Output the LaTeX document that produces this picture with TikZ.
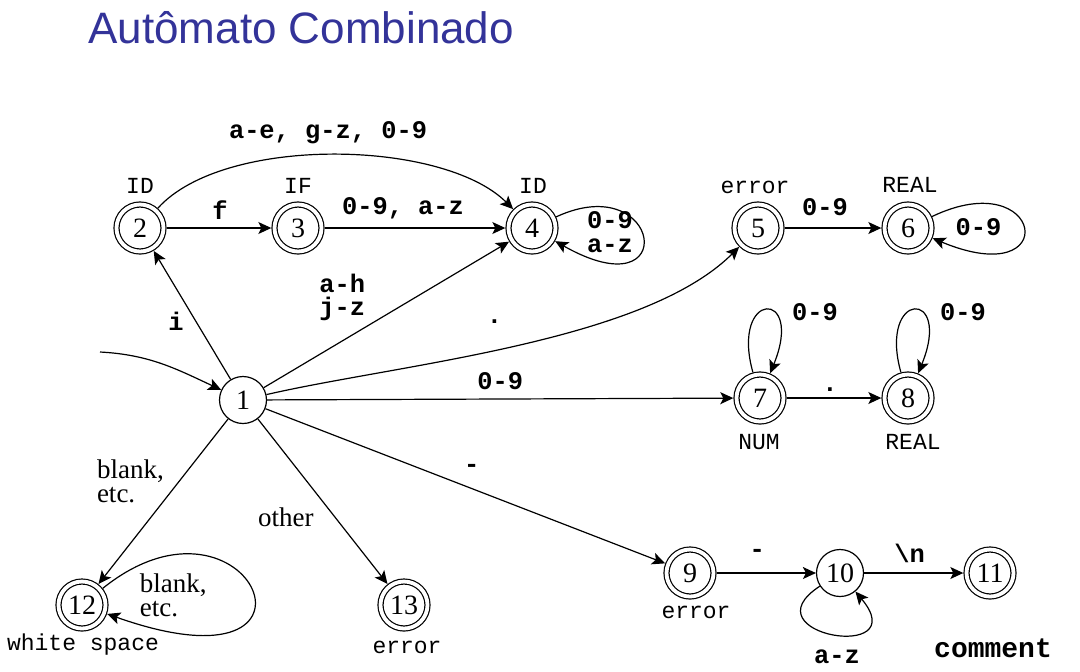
\documentclass[tikz,border=0pt]{standalone}
\usepackage{fontspec}
\setmainfont{Liberation Serif}
\setsansfont{Liberation Sans}
\setmonofont{Liberation Mono}
\usetikzlibrary{arrows.meta}
\definecolor{titleblue}{RGB}{51,51,153}

\begin{document}
\begin{tikzpicture}[x=0.5pt, y=-0.5pt, font=\fontsize{14}{14}\selectfont] % one unit = one pixel of the slide
\tikzstyle{state} = [circle, draw=black, line width=0.6pt, minimum size=23.5pt, inner sep=0pt]
\tikzstyle{final} = [state, double, double distance=1.9pt, outer sep=1.6pt] % accepting states
\tikzstyle{tag} = [font=\fontsize{11.5}{11.5}\selectfont\ttfamily, inner sep=0pt]
\tikzstyle{arrow} = [-{Stealth[length=6.5pt, width=6pt, inset=1.5pt]}, line width=0.6pt, draw=black]
\tikzstyle{sym} = [font=\fontsize{12.7}{11.5}\selectfont\ttfamily\bfseries, inner sep=0pt, align=center]
\tikzstyle{word} = [font=\fontsize{13.5}{12}\selectfont, inner sep=0pt, align=left]

\useasboundingbox (0,0) rectangle (1080,671);

% Title of the slide
\node[anchor=base west, inner sep=0pt, font=\fontsize{22}{22}\selectfont\sffamily, text=titleblue] (Title) at (88,43) {Autômato Combinado};

% States
\node[state] (Start1) at (243,400) {1};
\node[final] (Id2) at (140,228) {2};
\node[final] (If3) at (298,228) {3};
\node[final] (Id4) at (532,228) {4};
\node[final] (Err5) at (758,228) {5};
\node[final] (Real6) at (908,228) {6};
\node[final] (Num7) at (760,398) {7};
\node[final] (Real8) at (908,398) {8};
\node[final] (Err9) at (690,573) {9};
\node[state] (Cmt10) at (840,573) {10};
\node[final] (Cmt11) at (990,573) {11};
\node[final] (White12) at (82,605) {12};
\node[final] (Err13) at (404,605) {13};

% Token names next to the states
\node[tag] (TagId2) at (140,186) {ID};
\node[tag] (TagIf3) at (298,186) {IF};
\node[tag] (TagId4) at (533,186) {ID};
\node[tag] (TagErr5) at (755,187) {error};
\node[tag] (TagReal6) at (910,185) {REAL};
\node[tag] (TagNum7) at (759,442) {NUM};
\node[tag] (TagReal8) at (913,442) {REAL};
\node[tag] (TagErr9) at (696,612) {error};
\node[tag] (TagWhite12) at (83,645) {white space};
\node[tag] (TagErr13) at (407,647) {error};
\node[font=\fontsize{14}{14}\selectfont\ttfamily\bfseries, inner sep=0pt] (TagComment) at (993,648) {comment};

% Entry arrow
\coordinate (Entry) at (100,352);
\draw[arrow] (Entry) to[out=-3, in=155] (Start1);

% Transitions out of the start state
\draw[arrow] (Start1) -- node[sym, pos=0.45, shift={(-20,0)}] {i} (Id2);
\draw[arrow] (Start1) -- node[sym, pos=0.32, shift={(0,-44)}] {a-h\\j-z} (Id4);
\draw[arrow] (Start1) to[out=13, in=-135, looseness=0.7] node[sym, pos=0.5, shift={(-22,-24)}] {.} (Err5);
\draw[arrow] (Start1) -- node[sym, midway, shift={(0,-18)}] {0-9} (Num7);
\draw[arrow] (Start1) -- node[sym, pos=0.516, shift={(0,-20)}] {-} (Err9);
\draw[arrow] (Start1) -- node[word, pos=0.376, shift={(-49,0)}] {blank,\\etc.} (White12);
\draw[arrow] (Start1) -- node[word, pos=0.594, shift={(-49,0)}] {other} (Err13);

% Identifiers and keyword if
\draw[arrow] (Id2) -- node[sym, midway, shift={(1,-18)}] {f} (If3);
\draw[arrow] (Id2) to[out=48, in=135, looseness=0.71] node[sym, pos=0.5, shift={(-6,-22)}] {a-e, g-z, 0-9} (Id4);
\draw[arrow] (If3) -- node[sym, midway, shift={(-12,-20)}] {0-9, a-z} (Id4);
\draw[arrow] (Id4) .. controls +(130,-60) and +(150,85) .. node[sym, pos=0.5, shift={(-33,-6)}] {0-9\\[0.5pt]a-z} (Id4);

% Numbers
\draw[arrow] (Err5) -- node[sym, midway, shift={(-8,-21)}] {0-9} (Real6);
\draw[arrow] (Real6) .. controls +(136,-65) and +(156,65) .. node[sym, pos=0.5, shift={(-45,-1)}] {0-9} (Real6);
\draw[arrow] (Num7) .. controls +(-30,-108) and +(45,-110) .. node[sym, pos=0.5, shift={(49,2)}] {0-9} (Num7);
\draw[arrow] (Num7) -- node[sym, midway, shift={(-4,-8)}] {.} (Real8);
\draw[arrow] (Real8) .. controls +(-30,-108) and +(45,-110) .. node[sym, pos=0.5, shift={(49,2)}] {0-9} (Real8);

% Comments
\draw[arrow] (Err9) -- node[sym, midway, shift={(-9,-20)}] {-} (Cmt10);
\draw[arrow] (Cmt10) -- node[sym, midway, shift={(-4,-20)}] {\textbackslash n} (Cmt11);
\draw[arrow] (Cmt10) .. controls +(-95,62) and +(75,90) .. node[sym, pos=0.5, shift={(5,23)}] {a-z} (Cmt10);

% White space
\draw[arrow] (White12) .. controls +(168,-135) and +(268,95) .. node[word, pos=0.5, shift={(-78,6)}] {blank,\\etc.} (White12);

\end{tikzpicture}
\end{document}
